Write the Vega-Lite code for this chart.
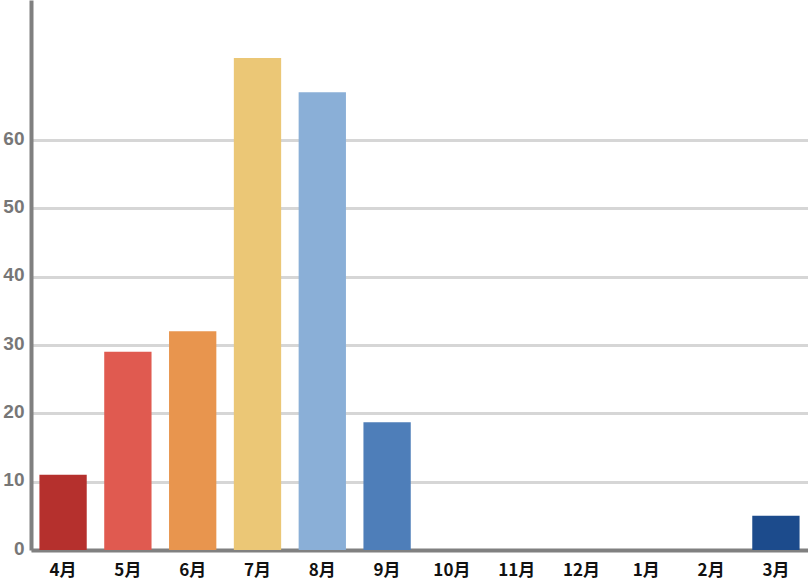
{
  "$schema": "https://vega.github.io/schema/vega-lite/v6.json",
  "width": 777,
  "height": 550,
  "autosize": {"type": "none"},
  "padding": {"left": 31, "top": 0, "right": 0, "bottom": 37},
  "background": "#ffffff",
  "config": {"view": {"stroke": null}},
  "data": {
    "values": [
      {"month": "4月", "value": 11},
      {"month": "5月", "value": 29},
      {"month": "6月", "value": 32},
      {"month": "7月", "value": 72},
      {"month": "8月", "value": 67},
      {"month": "9月", "value": 18.7},
      {"month": "10月", "value": 0},
      {"month": "11月", "value": 0},
      {"month": "12月", "value": 0},
      {"month": "1月", "value": 0},
      {"month": "2月", "value": 0},
      {"month": "3月", "value": 5}
    ]
  },
  "mark": {"type": "bar"},
  "encoding": {
    "x": {
      "field": "month",
      "type": "nominal",
      "sort": null,
      "scale": {"paddingInner": 0.27, "paddingOuter": 0.13},
      "axis": {
        "title": null,
        "labelAngle": 0,
        "ticks": false,
        "domain": true,
        "domainColor": "#808080",
        "domainWidth": 4,
        "labelFont": "Noto Sans CJK JP",
        "labelFontWeight": "bold",
        "labelFontSize": 17,
        "labelColor": "#111111",
        "labelPadding": 12,
        "labelBaseline": "top"
      }
    },
    "y": {
      "field": "value",
      "type": "quantitative",
      "scale": {"domain": [0, 80.5], "nice": false},
      "axis": {
        "title": null,
        "values": [0, 10, 20, 30, 40, 50, 60],
        "ticks": false,
        "domain": true,
        "domainColor": "#808080",
        "domainWidth": 4,
        "grid": true,
        "gridColor": "#d6d6d6",
        "gridWidth": 3,
        "labelFont": "Liberation Sans",
        "labelFontWeight": "bold",
        "labelFontSize": 19,
        "labelColor": "#777777",
        "labelPadding": 7,
        "labelOffset": -2
      }
    },
    "color": {
      "field": "month",
      "type": "nominal",
      "legend": null,
      "scale": {
        "domain": ["4月", "5月", "6月", "7月", "8月", "9月", "10月", "11月", "12月", "1月", "2月", "3月"],
        "range": ["#b5302d", "#e05a50", "#e8954e", "#ebc776", "#8aafd7", "#4e7eb9", "#3d6aa8", "#2f5f9e", "#275696", "#225190", "#1f4e8e", "#1c4b8c"]
      }
    }
  }
}
